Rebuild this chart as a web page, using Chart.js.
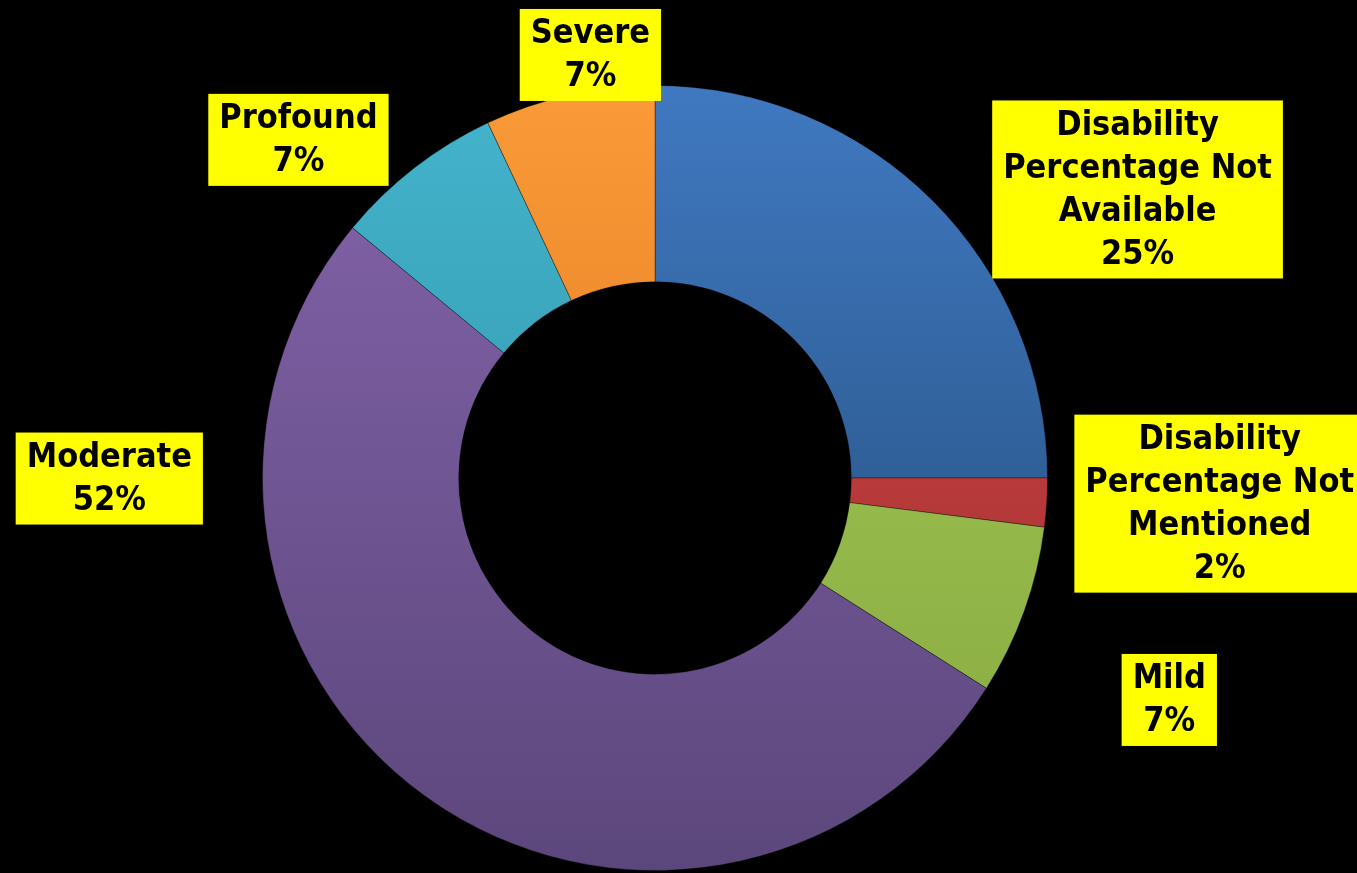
<!DOCTYPE html>
<html>
<head>
<meta charset="utf-8">
<script src="https://cdn.jsdelivr.net/npm/chart.js@4.4.0/dist/chart.umd.min.js"></script>
<style>
  html, body { margin: 0; padding: 0; background: #000; }
  #wrap { width: 1357px; height: 873px; position: relative; }
</style>
</head>
<body>
<div id="wrap"><canvas id="c"></canvas></div>
<script>
// ---- data ----
const categories = [
  'Disability Percentage Not Available',
  'Disability Percentage Not Mentioned',
  'Mild',
  'Moderate',
  'Profound',
  'Severe'
];
const values = [25, 2, 7, 52, 7, 7];
const labelLines = [
  ['Disability', 'Percentage Not', 'Available'],
  ['Disability', 'Percentage Not', 'Mentioned'],
  ['Mild'],
  ['Moderate'],
  ['Profound'],
  ['Severe']
];

// ---- styling / layout ----
const colorTop    = ['#4079c1', '#d04848', '#a8cc58', '#8464ab', '#44b4cc', '#fa9a38'];
const colorBottom = ['#1f4670', '#a02c2c', '#86a840', '#5c477c', '#2a8aa0', '#d87018'];
// label box offsets (px) from the outer mid-point of each arc
const labelOffsets = [[205, -11], [173, 1], [145, 89], [-315, -317], [-116, -28], [21, -40]];

const total = values.reduce((a, b) => a + b, 0);

const labelPlugin = {
  id: 'boxLabels',
  afterDatasetsDraw(chart) {
    const ctx = chart.ctx;
    const meta = chart.getDatasetMeta(0);
    const lineH = 43, padX = 11, padY = 3;
    ctx.save();
    ctx.font = 'bold 34px "DejaVu Sans Condensed", "DejaVu Sans", sans-serif';
    ctx.textAlign = 'center';
    ctx.textBaseline = 'middle';
    meta.data.forEach((arc, i) => {
      const p = arc.getProps(['x', 'y', 'startAngle', 'endAngle', 'outerRadius'], true);
      const mid = (p.startAngle + p.endAngle) / 2;
      const cx = p.x + Math.cos(mid) * p.outerRadius + labelOffsets[i][0];
      const cy = p.y + Math.sin(mid) * p.outerRadius + labelOffsets[i][1];
      const lines = labelLines[i].concat([Math.round(values[i] / total * 100) + '%']);
      let w = 0;
      lines.forEach(l => { w = Math.max(w, ctx.measureText(l).width); });
      const bw = w + padX * 2, bh = lines.length * lineH + padY * 2;
      ctx.fillStyle = '#ffff00';
      ctx.fillRect(cx - bw / 2, cy - bh / 2, bw, bh);
      ctx.fillStyle = '#000000';
      lines.forEach((l, j) => {
        ctx.fillText(l, cx, cy - (lines.length - 1) / 2 * lineH + j * lineH + 1);
      });
    });
    ctx.restore();
  }
};

function grad(ctx, i) {
  const chart = ctx.chart;
  const area = chart.chartArea;
  if (!area) return colorTop[i];
  const g = chart.ctx.createLinearGradient(0, area.top, 0, area.bottom);
  g.addColorStop(0, colorTop[i]);
  g.addColorStop(1, colorBottom[i]);
  return g;
}

new Chart(document.getElementById('c'), {
  type: 'doughnut',
  data: {
    labels: categories,
    datasets: [{
      data: values,
      backgroundColor: (ctx) => grad(ctx, ctx.dataIndex),
      borderColor: 'rgba(0,0,0,0.35)',
      borderWidth: 1
    }]
  },
  options: {
    responsive: true,
    maintainAspectRatio: false,
    animation: false,
    cutout: '50%',
    rotation: 0,
    layout: { padding: { top: 85, bottom: 2, left: 0, right: 47 } },
    plugins: {
      legend: { display: false },
      tooltip: { enabled: false }
    }
  },
  plugins: [labelPlugin]
});
</script>
</body>
</html>
